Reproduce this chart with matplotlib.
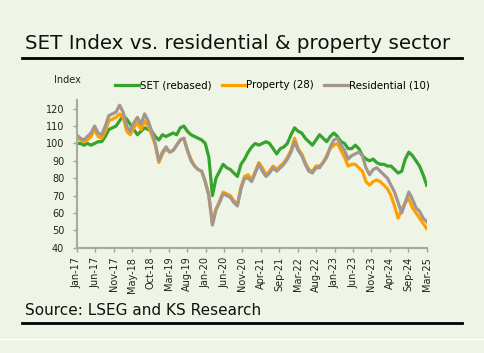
import numpy as np
import matplotlib.pyplot as plt
from matplotlib.lines import Line2D

# monthly readings, Jan-17 .. Mar-25 (99 points)
set_rebased = [100, 100, 99, 100, 99, 100, 101, 101, 104, 108, 109, 110,
               113, 116, 114, 111, 108, 105, 107, 109, 108, 107, 104, 102,
               105, 104, 105, 106, 105, 109, 110, 107, 105, 104, 103, 102,
               100, 92, 70, 80, 84, 88, 86, 85, 83, 81, 88, 91,
               95, 98, 100, 99, 100, 101, 100, 97, 94, 97, 98, 100,
               105, 109, 107, 106, 103, 101, 99, 102, 105, 103, 101, 104,
               106, 104, 101, 100, 97, 97, 99, 97, 93, 91, 90, 91,
               89, 88, 88, 87, 87, 85, 83, 84, 91, 95, 93, 90,
               87, 82, 76]
property_28 = [104, 102, 101, 102, 104, 108, 104, 103, 107, 113, 114, 115,
               117, 115, 107, 105, 109, 112, 108, 113, 110, 105, 99, 89,
               94, 97, 95, 96, 99, 102, 103, 96, 91, 87, 85, 84,
               78, 70, 54, 62, 67, 72, 71, 70, 67, 65, 75, 81,
               82, 79, 84, 89, 86, 82, 84, 87, 85, 87, 89, 92,
               96, 103, 97, 94, 89, 85, 84, 87, 87, 89, 93, 97,
               99, 100, 96, 92, 87, 88, 88, 86, 84, 78, 76, 78,
               79, 78, 76, 74, 70, 64, 57, 62, 66, 68, 63, 60,
               57, 54, 51]
residential_10 = [105, 103, 102, 104, 106, 110, 106, 105, 110, 116, 117, 118,
                  122, 118, 110, 107, 112, 115, 111, 117, 113, 107, 100, 90,
                  95, 98, 95, 96, 99, 102, 103, 96, 90, 87, 85, 84,
                  78, 70, 53, 62, 66, 71, 70, 69, 66, 64, 74, 80,
                  80, 78, 83, 88, 84, 81, 83, 86, 84, 86, 88, 91,
                  95, 101, 96, 93, 88, 84, 83, 86, 86, 89, 92, 98,
                  102, 103, 99, 96, 91, 93, 94, 95, 93, 86, 82, 85,
                  86, 84, 82, 80, 76, 72, 66, 60, 66, 72, 68, 63,
                  61, 57, 55]
tick_labels = ['Jan-17', 'Jun-17', 'Nov-17', 'May-18', 'Oct-18', 'Mar-19', 'Aug-19',
               'Jan-20', 'Jun-20', 'Nov-20', 'Apr-21', 'Sep-21', 'Mar-22', 'Aug-22',
               'Jan-23', 'Jun-23', 'Nov-23', 'Apr-24', 'Sep-24', 'Mar-25']

bg = '#EEF5E6'
months = np.arange(len(set_rebased))

fig = plt.figure(figsize=(4.84, 3.53), dpi=100, facecolor=bg)
ax = fig.add_axes([0.1585, 0.2983, 0.7231, 0.4184], facecolor=bg)

ax.plot(months, set_rebased, color='#36A32E', lw=2.3, label='SET (rebased)')
ax.plot(months, property_28, color='#FFA000', lw=2.3, label='Property (28)')
ax.plot(months, residential_10, color='#A3958F', lw=2.3, label='Residential (10)')

ax.set_xlim(0, months[-1])
ax.set_ylim(40, 125)
ax.set_yticks(range(40, 121, 10))
ax.set_xticks(np.linspace(0, months[-1], len(tick_labels)))
ax.set_xticklabels(tick_labels, rotation=90)
ax.tick_params(labelsize=7, colors='#A0A0A0', labelcolor='#222222', length=3, width=1)
ax.tick_params(axis='y', pad=6)
for s in ['top', 'right']:
    ax.spines[s].set_visible(False)
for s in ['left', 'bottom']:
    ax.spines[s].set_color('#A8A8A8')
    ax.spines[s].set_linewidth(1.5)

ax.legend(loc='lower left', bbox_to_anchor=(0.11, 1.065), ncol=3, frameon=False,
          fontsize=7.4, handlelength=2.3, handletextpad=0.1, columnspacing=1.0,
          borderaxespad=0, borderpad=0)
fig.text(0.112, 0.773, 'Index', fontsize=7, color='#222222', va='center')

fig.text(0.052, 0.878, 'SET Index vs. residential & property sector', fontsize=14.3,
         va='center', color='#111111')
fig.add_artist(Line2D([0.046, 0.955], [0.836, 0.836], color='black', lw=2))
fig.text(0.052, 0.119, 'Source: LSEG and KS Research', fontsize=11, va='center',
         color='#111111')
fig.add_artist(Line2D([0.046, 0.955], [0.085, 0.085], color='black', lw=2))
fig.add_artist(Line2D([0, 1], [0.04, 0.04], color='white', lw=1))

fig.savefig('out.png', dpi=100, facecolor=bg)
